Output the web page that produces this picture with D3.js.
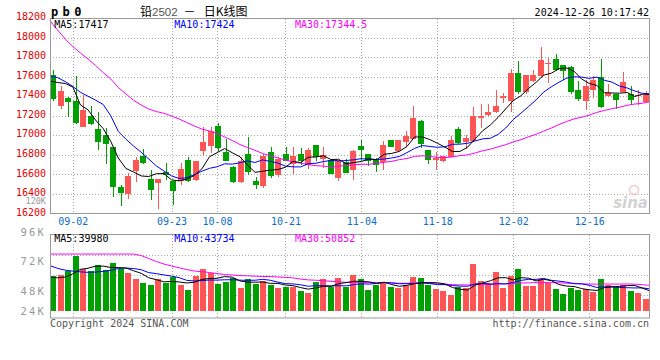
<!DOCTYPE html>
<html><head><meta charset="utf-8">
<script src="https://cdn.jsdelivr.net/npm/d3@7"></script>
<style>body{margin:0;background:#fff}svg{display:block}</style>
</head><body>
<svg id="c" width="660" height="360"></svg>
<script>
// ---- data ----
const openP  = [17612,17300,17385,17352,17090,17200,17065,17004,16878,16470,16402,16630,16793,16555,16507,16620,16528,16528,16749,16546,16841,16895,17097,16834,16671,16518,16807,16528,16486,16834,16589,16810,16710,16810,16695,16902,16760,16752,16560,16725,16647,16893,16808,16756,16730,16953,16843,16936,16966,17147,16851,16749,16732,16783,17065,16928,16940,17181,17208,17240,17378,17351,17633,17440,17555,17609,17728,17782,17718,17701,17463,17351,17463,17592,17400,17422,17446,17422,17402,17337];
const highP  = [17670,17504,17390,17606,17408,17298,17235,17072,16885,16494,16613,16779,16861,16640,16548,16715,16535,16715,16780,16740,17089,17089,17123,16963,16691,16773,16980,16572,16807,16885,16783,16885,16885,16868,16870,16905,16885,16760,16750,16760,16850,16953,16812,16765,16943,16955,16955,17045,17302,17157,16851,16825,16790,16997,17089,17004,17293,17317,17317,17468,17429,17674,17762,17620,17667,17908,17791,17828,17720,17705,17560,17565,17610,17781,17521,17425,17646,17504,17463,17453];
const lowP   = [17350,17272,17190,17118,17085,17106,16851,16705,16365,16273,16348,16521,16705,16337,16246,16545,16283,16487,16518,16528,16790,16817,16835,16732,16511,16510,16589,16450,16460,16562,16570,16735,16605,16700,16655,16735,16664,16600,16528,16613,16545,16732,16691,16620,16647,16880,16834,16885,16966,16868,16708,16647,16725,16775,16910,16861,16940,17072,17200,17230,17327,17240,17425,17420,17550,17600,17535,17660,17565,17424,17351,17259,17378,17276,17395,17272,17440,17310,17310,17335];
const closeP = [17370,17455,17345,17125,17260,17118,16929,16915,16467,16405,16586,16749,16715,16436,16548,16596,16426,16660,16530,16732,16936,17045,16870,16739,16518,16732,16623,16494,16793,16579,16759,16742,16793,16732,16851,16775,16800,16603,16745,16618,16841,16851,16742,16695,16902,16885,16953,16994,17178,16910,16749,16766,16790,16953,16919,16970,17200,17201,17242,17302,17402,17633,17440,17616,17616,17769,17735,17667,17660,17446,17371,17507,17565,17293,17429,17361,17541,17361,17412,17412];
const volume = [69500,72100,80800,111100,84200,80800,92300,82200,97000,83600,76800,64000,56600,51900,64000,55300,67500,51900,41800,70700,84200,76800,53900,58600,65400,46500,64000,53900,60000,51900,46500,47300,47300,40400,36400,58600,64000,47300,66700,47300,72100,63400,41800,51900,58600,48500,45200,51900,68700,66700,51900,43200,40400,31700,48500,45200,93700,60600,55300,77600,46500,70700,83600,50500,49300,64000,56000,44800,34700,45200,42800,43400,38400,64000,51300,48500,51300,40200,36400,23600];
// moving-average values read off the picture where earlier history is not shown
const ma5Head  = [17555,17540,17530,17495];
const ma10Head = [17605,17590,17550,17500,17440,17400,17360,17315,17200];
const ma30Head = [18172,18077,17985,17908,17842,17781,17714,17642,17576,17489,17423,17358,17310,17269,17243,17225,17197,17167,17131,17095,17064,17044,17018,16983,16947,16906,16875,16845,16814];
const vma5Head  = [67500,66500,68000,74500];
const vma10Head = [91000,85500,82000,80000,78500,77500,78000,79500,81500];
const vma30Head = [114500,114500,114500,114500,114500,114500,114500,114500,114500,114500,114500,114500,111500,105400,99400,94300,90300,86700,83200,80200,78800,77200,75100,73100,72100,71100,70500,69800,69200];
const priceTicks = [16200,16400,16600,16800,17000,17200,17400,17600,17800,18000,18200];
const volTickValues = [96000,72000,48000,24000];
const volTickLabels = ["96K","72K","48K","24K"];
const dateTickIdx = [3,16,22,31,41,51,61,71];
const dateTickLabels = ["09-02","09-23","10-08","10-21","11-04","11-18","12-02","12-16"];
const priceLegend = ["MA5:17417","MA10:17424","MA30:17344.5"];
const volLegend = ["MA5:39980","MA10:43734","MA30:50852"];
const maColors = ["#000000","#0000ff","#ff00ff"];

// ---- drawing ----
const svg = d3.select("#c");
const MONO = "'DejaVu Sans Mono', monospace";
const UP = "#ff5555", DOWN = "#00a000";
const n = closeP.length;
const idx = d3.range(n);

const xBand = d3.scaleBand().domain(idx).range([49.25, 649.25]).paddingInner(0.2).paddingOuter(0.1);
const xLine = d3.scaleLinear().domain([0, n - 1]).range([50, 650]);
const yP = d3.scaleLinear().domain([16200, 18200]).range([213.5, 18]);
const yV = d3.scaleLinear().domain([0, 154000]).range([310.7, 234.5]);
const yVLab = d3.scaleLinear().domain([24000, 96000]).range([320.2, 231.7]);

function ma(arr, k, head) {
  return arr.map((_, i) => i < k - 1 ? head[i] : d3.mean(arr.slice(i - k + 1, i + 1)));
}

const P = {l: 50, r: 649, t: 18.5, b: 213.5};
const V = {t: 234.5, b: 318};

// gridlines
const grid = svg.append("g").attr("stroke", "#a8a8a8").attr("stroke-dasharray", "1,2").attr("shape-rendering", "crispEdges");
priceTicks.slice(1, -1).forEach(t => {
  grid.append("line").attr("x1", P.l).attr("x2", P.r).attr("y1", Math.round(yP(t)) + 0.5).attr("y2", Math.round(yP(t)) + 0.5);
});
[1, 2, 3].forEach(k => {
  const y = Math.round(V.t + k * 20.2) + 0.5;
  grid.append("line").attr("x1", P.l).attr("x2", P.r).attr("y1", y).attr("y2", y);
});
dateTickIdx.forEach(i => {
  const x = Math.round(xLine(i)) + 0.5;
  grid.append("line").attr("x1", x).attr("x2", x).attr("y1", P.t).attr("y2", P.b);
  grid.append("line").attr("x1", x).attr("x2", x).attr("y1", V.t).attr("y2", V.b);
});

// sina watermark
const wm = svg.append("g").attr("opacity", 0.55);
wm.append("circle").attr("cx", 634).attr("cy", 190).attr("r", 4.5).attr("fill", "none").attr("stroke", "#f29a9a").attr("stroke-width", 1.5);
wm.append("text").attr("x", 648).attr("y", 208).attr("text-anchor", "end")
  .attr("font-family", "'DejaVu Sans', sans-serif").attr("font-style", "italic").attr("font-weight", "bold")
  .attr("font-size", 15).attr("fill", "#b0b0b0").text("sina");

// candles
const cg = svg.append("g").attr("shape-rendering", "crispEdges");
idx.forEach(i => {
  const up = closeP[i] >= openP[i];
  const col = up ? UP : DOWN;
  const L = Math.round(xBand(i));
  const w = Math.round(xBand.bandwidth());
  const yh = Math.round(yP(highP[i])), yl = Math.round(yP(lowP[i]));
  const yt = Math.round(yP(Math.max(openP[i], closeP[i]))), yb = Math.round(yP(Math.min(openP[i], closeP[i])));
  cg.append("rect").attr("x", L + 3).attr("y", yh).attr("width", 1).attr("height", Math.max(1, yl - yh)).attr("fill", col);
  cg.append("rect").attr("x", L).attr("y", yt).attr("width", w).attr("height", Math.max(1, yb - yt)).attr("fill", col);
});

// volume bars
idx.forEach(i => {
  const col = closeP[i] >= openP[i] ? UP : DOWN;
  const L = Math.round(xBand(i));
  const y = Math.round(yV(volume[i]));
  cg.append("rect").attr("x", L).attr("y", y).attr("width", Math.round(xBand.bandwidth()))
    .attr("height", Math.round(yV(0)) - y).attr("fill", col);
});

// moving averages
const pMA = [ma(closeP, 5, ma5Head), ma(closeP, 10, ma10Head), ma(closeP, 30, ma30Head)];
const vMA = [ma(volume, 5, vma5Head), ma(volume, 10, vma10Head), ma(volume, 30, vma30Head)];
const lp = d3.line().x((d, i) => xLine(i)).y(d => yP(d));
const lv = d3.line().x((d, i) => xLine(i)).y(d => yV(d));
[2, 1, 0].forEach(k => {
  svg.append("path").attr("d", lp(pMA[k])).attr("fill", "none").attr("stroke", maColors[k]).attr("stroke-width", 1);
  svg.append("path").attr("d", lv(vMA[k])).attr("fill", "none").attr("stroke", maColors[k]).attr("stroke-width", 1);
});

// frames
svg.append("rect").attr("x", P.l + 0.5).attr("y", P.t).attr("width", P.r - P.l).attr("height", P.b - P.t)
  .attr("fill", "none").attr("stroke", "#999").attr("stroke-width", 1);
svg.append("rect").attr("x", P.l + 0.5).attr("y", V.t).attr("width", P.r - P.l).attr("height", V.b - V.t)
  .attr("fill", "none").attr("stroke", "#999").attr("stroke-width", 1);

// price axis labels
svg.append("g").selectAll("text").data(priceTicks).join("text")
  .attr("x", 46).attr("y", d => yP(d) + 2.1).attr("text-anchor", "end")
  .attr("font-family", MONO).attr("font-size", 10).attr("fill", "#e60000").text(d => d);
// odd gray 120K label
svg.append("text").attr("x", 46).attr("y", 204.3).attr("text-anchor", "end")
  .attr("font-family", MONO).attr("font-size", 8.5).attr("fill", "#9a9a9a").text("120K");

// volume axis labels
svg.append("g").selectAll("text").data(volTickValues).join("text")
  .attr("x", 46).attr("y", d => Math.min(yVLab(d), 310.7) + 3.8).attr("text-anchor", "end")
  .attr("font-family", MONO).attr("font-size", 10.5).attr("letter-spacing", 2.2).attr("fill", "#999")
  .text((d, i) => volTickLabels[i]);

// date labels
svg.append("g").selectAll("text").data(dateTickIdx).join("text")
  .attr("x", d => xLine(d) + 0.5).attr("y", 224.6).attr("text-anchor", "middle")
  .attr("font-family", MONO).attr("font-size", 10).attr("fill", "#0a6fd0").text((d, i) => dateTickLabels[i]);

// legends
const legX = [54.3, 174.3, 295];
priceLegend.forEach((t, k) => svg.append("text").attr("x", legX[k]).attr("y", 27.6)
  .attr("font-family", MONO).attr("font-size", 10).attr("fill", maColors[k]).text(t));
volLegend.forEach((t, k) => svg.append("text").attr("x", legX[k]).attr("y", 241.9)
  .attr("font-family", MONO).attr("font-size", 10).attr("fill", maColors[k]).text(t));

// header
svg.append("text").attr("x", 51).attr("y", 15.5).attr("font-family", MONO).attr("font-weight", "bold")
  .attr("font-size", 12).attr("letter-spacing", 4.4).attr("fill", "#000").text("pb0");
const title = svg.append("text").attr("x", 140).attr("y", 15.5).attr("font-size", 12)
  .attr("font-family", "'Noto Sans CJK SC', sans-serif").attr("fill", "#000");
title.append("tspan").text("铅");
title.append("tspan").attr("font-family", "'Liberation Sans', Arial, sans-serif").attr("fill", "#555").attr("font-size", 11.5).text("2502");
title.append("tspan").attr("dx", 6).text("－");
title.append("tspan").attr("dx", 8).text("日K线图");
svg.append("text").attr("x", 649).attr("y", 15.6).attr("text-anchor", "end")
  .attr("font-family", MONO).attr("font-size", 10).attr("fill", "#000").text("2024-12-26 10:17:42");

// footer
svg.append("text").attr("x", 50).attr("y", 327).attr("font-family", MONO).attr("font-size", 10)
  .attr("fill", "#555").text("Copyright 2024 SINA.COM");
svg.append("text").attr("x", 649).attr("y", 327).attr("text-anchor", "end").attr("font-family", MONO)
  .attr("font-size", 10).attr("fill", "#555").text("http://finance.sina.com.cn");
</script>
</body></html>
